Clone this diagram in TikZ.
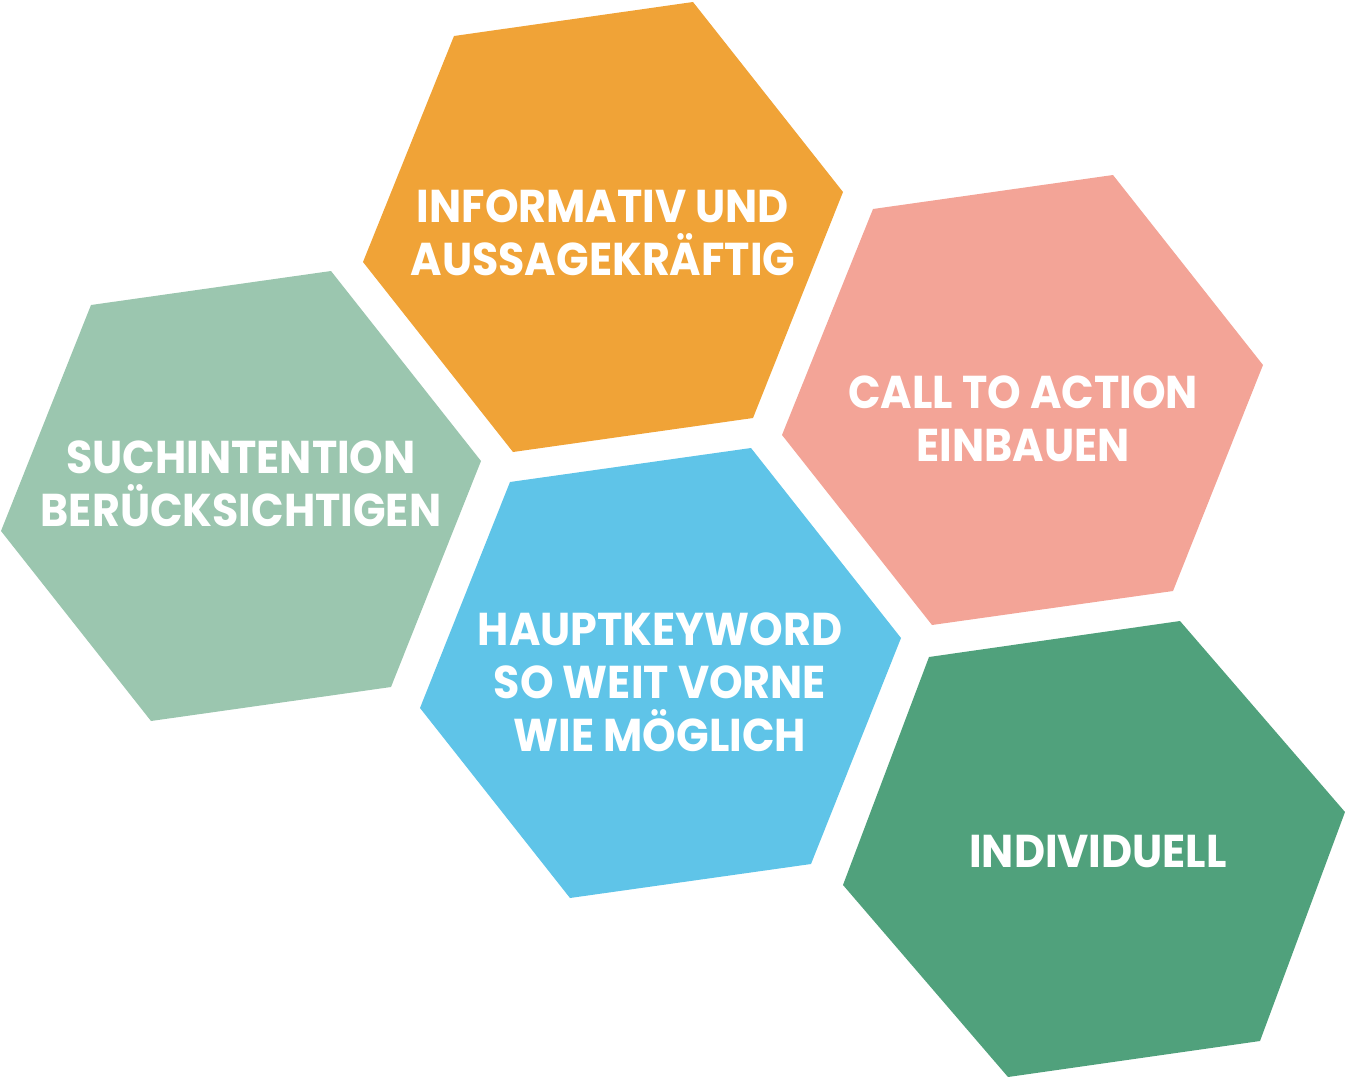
\documentclass[tikz,border=0pt]{standalone}
\usepackage{fontspec}
\setmainfont{Poppins}[FakeStretch=0.93]
\definecolor{horange}{HTML}{F0A337}
\definecolor{hpink}{HTML}{F3A497}
\definecolor{hlgreen}{HTML}{9BC6AF}
\definecolor{hblue}{HTML}{5FC4E8}
\definecolor{hdgreen}{HTML}{50A17C}
\begin{document}
\begin{tikzpicture}[x=1pt,y=-1pt,
  lbl/.style={text=white,align=center,font=\fontsize{46}{53}\selectfont\bfseries,inner sep=0pt}]
\useasboundingbox (0,0) rectangle (1345,1077);
% orange
\fill[horange] (454,36) -- (693,2) -- (843,192) -- (753,418) -- (513,452) -- (363,262) -- cycle;
% pink
\fill[hpink] (873,209) -- (1113,175) -- (1263,365) -- (1173,591) -- (932,625) -- (782,435) -- cycle;
% light green
\fill[hlgreen] (91,305) -- (331,271) -- (481,461) -- (391,687) -- (151,721) -- (1,531) -- cycle;
% blue
\fill[hblue] (510,482) -- (751,448) -- (901,638) -- (811,864) -- (570,898) -- (420,708) -- cycle;
% dark green
\fill[hdgreen] (929,657) -- (1180,621) -- (1345,812) -- (1260,1041) -- (1008,1077) -- (843,885) -- cycle;
\node[lbl] (t1) at (603,233) {INFORMATIV UND\\AUSSAGEKRÄFTIG};
\node[lbl] (t2) at (1023,419) {CALL TO ACTION\\EINBAUEN};
\node[lbl] (t3) at (241,484) {SUCHINTENTION\\BERÜCKSICHTIGEN};
\node[lbl] (t4) at (660,682) {HAUPTKEYWORD\\SO WEIT VORNE\\WIE MÖGLICH};
\node[lbl] (t5) at (1098,852) {INDIVIDUELL};
\end{tikzpicture}
\end{document}
